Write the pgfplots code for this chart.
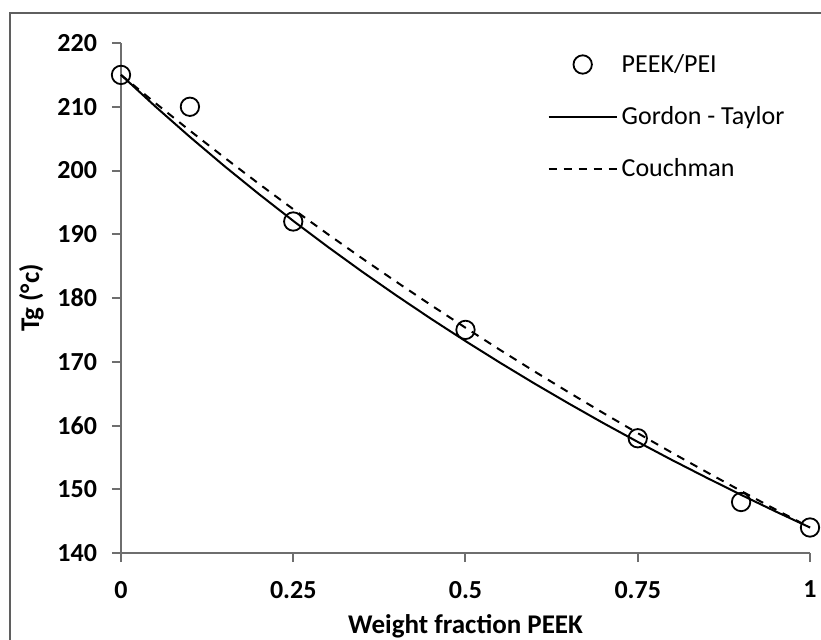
\documentclass[border=0pt]{standalone}
\usepackage{pgfplots}
\pgfplotsset{compat=1.18}
\usepackage{fontspec}
\setmainfont{Carlito}
\definecolor{axisgray}{RGB}{110,110,110}
\definecolor{framegray}{RGB}{95,95,95}
\begin{document}
\begin{tikzpicture}[x=1pt,y=1pt]
\useasboundingbox (0,0) rectangle (410.5,319.5);
\clip (0,0) rectangle (410.5,319.5);
% chart frame
\draw[line width=1.2pt, framegray] (5,-20) rectangle (440,313);
\begin{axis}[
  at={(60.5pt,43pt)}, anchor=south west,
  scale only axis, width=344.5pt, height=255pt,
  xmin=0, xmax=1, ymin=140, ymax=220,
  axis lines*=left,
  axis line style={axisgray, line width=1pt},
  xtick={0,0.25,0.5,0.75,1},
  xticklabels={0,0.25,0.5,0.75,1},
  ytick={140,150,...,220},
  tick align=outside, major tick length=4.5pt,
  tick style={axisgray, line width=1pt},
  /pgf/number format/assume math mode=true,
  tick label style={font=\bfseries\fontsize{13}{15}\selectfont},
  xticklabel style={yshift=-6pt},
  yticklabel style={xshift=-4pt},
  xlabel={Weight fraction PEEK},
  ylabel={Tg (°c)},
  label style={font=\bfseries\fontsize{13.5}{15}\selectfont},
  xlabel style={at={(axis description cs:0.5,-0.143)}, anchor=center},
  ylabel style={at={(axis description cs:-0.13,0.5)}, anchor=center},
  clip=false,
  legend cell align=left,
  legend image code/.code={%
    \draw[mark repeat=2, mark phase=2, #1]
      plot coordinates {(0pt,0pt) (17pt,0pt) (34pt,0pt)};},
  legend style={draw=none, fill=none, at={(axis description cs:0.61,0.995)}, anchor=north west,
    font=\fontsize{13}{15}\selectfont, row sep=11.5pt},
]
% measured glass transition temperatures
\addplot[only marks, mark=o, mark size=4.6pt, mark options={line width=0.9pt, black}]
  coordinates {(0,215) (0.1,210) (0.25,192) (0.5,175) (0.75,158) (0.9,148) (1,144)};
\addlegendentry{PEEK/PEI}
% Gordon-Taylor prediction
\addplot[black, line width=1pt] coordinates {
  (0,215) (0.05,210.03) (0.1,205.27) (0.15,200.70) (0.2,196.32) (0.25,192.10)
  (0.3,188.04) (0.35,184.13) (0.4,180.37) (0.45,176.74) (0.5,173.24)
  (0.55,169.86) (0.6,166.59) (0.65,163.44) (0.7,160.38) (0.75,157.43)
  (0.8,154.57) (0.85,151.81) (0.9,149.12) (0.95,146.52) (1,144)};
\addlegendentry{Gordon - Taylor}
% Couchman prediction
\addplot[black, line width=1pt, dash pattern=on 4pt off 3.5pt] coordinates {
  (0,215) (0.05,210.57) (0.1,206.25) (0.15,202.04) (0.2,197.93) (0.25,193.93)
  (0.3,190.03) (0.35,186.22) (0.4,182.51) (0.45,178.88) (0.5,175.34)
  (0.55,171.87) (0.6,168.49) (0.65,165.19) (0.7,161.96) (0.75,158.80)
  (0.8,155.71) (0.85,152.69) (0.9,149.73) (0.95,146.83) (1,144)};
\addlegendentry{Couchman}
\end{axis}
\end{tikzpicture}
\end{document}
